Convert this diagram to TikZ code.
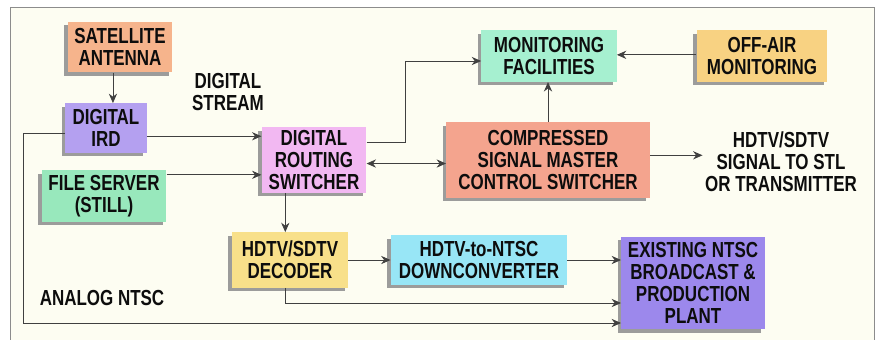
\documentclass[tikz,border=0pt]{standalone}
\usepackage{fontspec}
\setmainfont{Liberation Sans}[FakeStretch=0.78]
\usetikzlibrary{arrows.meta,calc,shadows}
\definecolor{cbg}{HTML}{FDFDF2}
\definecolor{csat}{HTML}{F6B48C}
\definecolor{cird}{HTML}{B4A0F0}
\definecolor{croute}{HTML}{F2B8F2}
\definecolor{cfile}{HTML}{98E8BC}
\definecolor{cmon}{HTML}{A6F0D0}
\definecolor{coff}{HTML}{F8D282}
\definecolor{ccomp}{HTML}{F4A48E}
\definecolor{cdec}{HTML}{F8E08A}
\definecolor{cdown}{HTML}{98E6F6}
\definecolor{cplant}{HTML}{9C88EC}
\tikzset{
  blk/.style={inner sep=2pt, align=center, text=black!95, font=\bfseries\fontsize{18.5}{18.7}\selectfont,
    drop shadow={shadow xshift=-3pt, shadow yshift=-3pt, fill=black!45, opacity=0.85}},
  lbl/.style={inner sep=2pt, align=center, text=black!95, font=\bfseries\fontsize{18.5}{18.7}\selectfont},
  sig/.style={draw=black!75, line width=0.7pt, -{Stealth[length=8pt,width=7pt]}},
}

\begin{document}
\begin{tikzpicture}[x=0.85pt, y=-0.85pt]
\useasboundingbox (0,0) rectangle (876,339);
% frame
\fill[cbg] (10,7) rectangle (874,345);
\draw[black!45, line width=0.6pt] (10,345) -- (10,7) -- (874,7) -- (874,345);
% blocks
\node[blk, fill=csat, minimum width=89pt, minimum height=43pt] (sat) at (120,47) {SATELLITE\\ANTENNA};
\node[blk, fill=cird, minimum width=69pt, minimum height=42pt] (ird) at (106,128) {DIGITAL\\IRD};
\node[blk, fill=croute, minimum width=89pt, minimum height=56pt] (route) at (314,160) {DIGITAL\\ROUTING\\SWITCHER};
\node[blk, fill=cfile, minimum width=106pt, minimum height=44pt] (file) at (104,196) {FILE SERVER\\(STILL)};
\node[blk, fill=cmon, minimum width=115pt, minimum height=44pt] (mon) at (549,56) {MONITORING\\FACILITIES};
\node[blk, fill=coff, minimum width=111pt, minimum height=44pt] (off) at (762,56) {OFF-AIR\\MONITORING};
\node[blk, fill=ccomp, minimum width=173pt, minimum height=64pt] (comp) at (548,160) {COMPRESSED\\SIGNAL MASTER\\CONTROL SWITCHER};
\node[blk, fill=cdec, minimum width=99pt, minimum height=47pt] (dec) at (290,260) {HDTV/SDTV\\DECODER};
\node[blk, fill=cdown, minimum width=150pt, minimum height=42pt] (down) at (479,260) {HDTV-to-NTSC\\DOWNCONVERTER};
\node[blk, fill=cplant, minimum width=122pt, minimum height=79pt] (plant) at (693,283) {EXISTING NTSC\\BROADCAST \&\\PRODUCTION\\PLANT};
% labels
\node[lbl] (strm) at (228,92) {DIGITAL\\STREAM};
\node[lbl] (sigout) at (781,162) {HDTV/SDTV\\SIGNAL TO STL\\OR TRANSMITTER};
\node[lbl] (analog) at (102,298) {ANALOG NTSC};
% connectors
\coordinate (rm) at (405,61);
\coordinate (acorner) at (23,323);
\draw[sig] ([xshift=-6pt]sat.south) -- ([xshift=-6pt]sat.south |- ird.north);
\draw[sig] ([yshift=-7pt]ird.east) -- ([yshift=-7pt]ird.east -| route.west);
\draw[sig] ([yshift=18pt]file.east) -- ([yshift=18pt]file.east -| route.west);
\draw[sig] ([yshift=15pt]route.east) -| (rm) -- (rm -| mon.west);
\draw[sig, {Stealth[length=8pt,width=7pt]}-{Stealth[length=8pt,width=7pt]}] ([yshift=-3pt]route.east) -- ([yshift=-3pt]route.east -| comp.west);
\draw[sig] (comp.north) -- (comp.north |- mon.south);
\draw[sig] ([yshift=1pt]off.west) -- ([yshift=1pt]off.west -| mon.east);
\draw[sig] ([yshift=4pt]comp.east) -- ([yshift=4pt]comp.east -| sigout.west);
\draw[sig] ([xshift=-4pt]dec.north |- route.south) -- ([xshift=-4pt]dec.north);
\draw[sig] (dec.east) -- (dec.east -| down.west);
\draw[sig] (down.east) -- (down.east -| plant.west);
\draw[sig] ([xshift=-4pt]dec.south) |- ($(plant.west)+(0,20)$);
\draw[sig] ($(ird.west)+(0,5)$) -| (acorner) -- (acorner -| plant.west);
\end{tikzpicture}
\end{document}
